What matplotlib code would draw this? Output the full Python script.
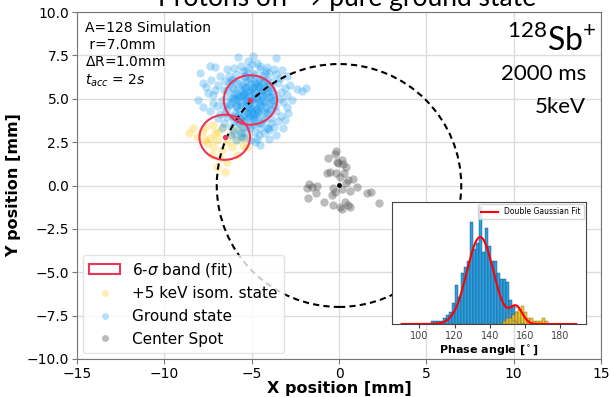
import numpy as np
import matplotlib.pyplot as plt
from matplotlib.patches import Ellipse, Circle, Rectangle
from matplotlib.lines import Line2D

plt.rcParams['mathtext.fontset'] = 'dejavusans'
plt.rcParams['mathtext.rm'] = 'Lato'

# ground state hits (mm)
blue_x = [-5.0, -4.8, -5.2, -4.6, -5.4, -5.1, -4.9, -4.5, -5.5, -5.3,
          -4.7, -5.6, -4.4, -5.0, -5.2, -4.3, -5.8, -4.9, -5.7, -4.2,
          -5.4, -4.6, -6.0, -4.0, -5.9, -4.8, -5.3, -4.1, -6.1, -3.9,
          -5.1, -4.4, -5.7, -6.2, -3.8, -4.6, -5.6, -6.3, -3.7, -5.0,
          -4.3, -5.9, -4.9, -4.1, -6.4, -3.6, -5.5, -4.5, -6.6, -3.5,
          -5.3, -4.2, -6.0, -3.9, -6.7, -3.4, -5.8, -4.8, -6.5, -3.6,
          -5.05, -4.85, -5.15, -4.95, -4.75, -5.25, -5.35, -4.65, -4.55, -5.45,
          -5.1, -4.9, -4.4, -5.6, -5.3, -4.7, -5.8, -4.2, -5.2, -4.8,
          -4.55, -5.45, -5.75, -4.25, -5.95, -4.05, -4.35, -5.65, -6.15, -3.85,
          -5.25, -4.75, -5.05, -4.95, -5.55, -4.45, -5.35, -4.65, -5.85, -4.15,
          -6.9, -7.0, -6.8, -6.8, -3.2, -3.1, -3.3, -3.4, -6.2, -3.7,
          -5.4, -4.6, -6.4, -5.6, -4.5, -6.0, -5.2, -4.0, -6.6, -7.2,
          -7.3, -6.5, -3.0, -3.5, -6.9, -6.1, -3.9, -6.3, -3.8, -7.1,
          -6.7, -6.2, -5.9, -5.6, -5.1, -4.3, -4.0, -3.6, -7.4, -7.6,
          -7.96, -7.38, -7.10, -5.76, -4.91, -4.71, -3.61, -4.14, -3.28, -8.05,
          -7.77, -7.48, -7.19, -2.42, -2.14, -1.89, -2.80, -2.99, -3.09, -3.19,
          -4.05, -4.52, -5.09, -5.86, -5.48, -6.43, -3.0, -2.7, -2.9, -7.8,
          -4.72, -5.18, -4.38, -5.62, -4.88, -5.32, -4.52, -5.48, -4.98, -5.08,
          -4.28, -5.78, -4.62, -5.38, -4.18, -5.88, -4.82, -5.22, -4.42, -5.58,
          -4.02, -6.02, -4.68, -5.12, -3.92, -6.08, -4.92, -5.28, -4.32, -5.72,
          -3.82, -6.22, -4.58, -5.42, -4.12, -5.92, -4.78, -5.02, -3.72, -6.32,
          -4.48, -5.52, -4.22, -5.68, -4.88, -5.16, -3.98, -6.12, -4.36, -5.84,
          -4.64, -5.36, -4.06, -5.96, -4.84, -5.04, -3.66, -6.42, -4.26, -5.74,
          -5.5, -4.5, -6.6, -3.3, -6.0, -4.0, -5.0, -5.3, -4.7, -6.3,
          -3.7, -5.9, -4.1, -5.4, -4.6, -6.1, -3.9, -5.2, -4.8, -5.6]
blue_y = [4.9, 5.1, 4.7, 4.8, 5.2, 5.4, 4.5, 5.3, 4.6, 5.0,
          4.4, 5.5, 4.9, 5.7, 4.2, 5.6, 4.9, 4.1, 4.3, 4.5,
          5.9, 6.0, 5.3, 5.1, 4.5, 3.9, 3.8, 4.2, 5.7, 5.7,
          6.2, 6.3, 6.1, 4.8, 4.7, 3.6, 3.9, 5.1, 5.3, 3.5,
          3.9, 6.4, 6.5, 6.1, 4.4, 4.3, 3.4, 3.3, 5.5, 5.9,
          6.6, 6.6, 3.7, 3.6, 4.9, 5.0, 3.2, 3.1, 6.0, 6.4,
          4.95, 4.75, 5.15, 5.25, 5.05, 4.85, 4.55, 5.45, 4.65, 5.35,
          4.4, 5.6, 5.2, 4.8, 5.7, 4.1, 5.2, 4.8, 3.9, 5.9,
          5.75, 4.05, 5.65, 4.15, 4.15, 5.45, 5.95, 3.75, 5.05, 4.95,
          5.45, 4.35, 5.85, 3.95, 5.15, 4.55, 4.25, 5.65, 4.65, 5.25,
          5.8, 4.6, 4.1, 6.3, 4.8, 5.6, 4.0, 6.2, 3.4, 3.4,
          3.0, 2.9, 6.7, 6.9, 6.9, 6.8, 7.2, 6.5, 3.6, 5.2,
          6.1, 4.2, 5.2, 3.7, 3.9, 4.0, 3.9, 6.3, 6.0, 5.5,
          3.3, 2.9, 2.6, 2.8, 2.6, 3.0, 2.7, 2.9, 4.3, 5.7,
          6.47, 6.89, 6.85, 7.39, 7.46, 7.04, 7.33, 6.85, 6.66, 4.93,
          4.54, 5.31, 4.74, 5.54, 5.46, 5.60, 5.79, 4.54, 3.78, 3.30,
          3.30, 2.33, 3.30, 3.68, 2.81, 3.97, 6.3, 4.9, 4.2, 5.9,
          5.02, 4.82, 5.18, 4.62, 5.38, 4.98, 4.72, 5.28, 4.42, 5.52,
          4.88, 5.08, 4.28, 5.62, 5.32, 4.58, 5.78, 4.18, 5.48, 5.22,
          4.68, 4.98, 5.92, 3.98, 5.08, 5.58, 3.82, 6.02, 4.38, 4.12,
          5.42, 4.72, 6.12, 3.72, 5.82, 5.32, 4.02, 6.22, 4.92, 4.62,
          3.62, 5.72, 6.02, 3.88, 6.38, 4.48, 4.32, 6.08, 3.78, 5.88,
          4.22, 6.32, 5.68, 3.92, 3.52, 4.26, 4.58, 5.48, 6.42, 3.62,
          6.6, 6.7, 4.6, 5.4, 3.0, 3.2, 7.0, 3.4, 2.7, 5.9,
          6.7, 5.0, 3.3, 6.3, 5.7, 6.1, 4.4, 6.8, 2.5, 3.0]

# +5 keV isomeric state hits (mm)
iso_x = [-8.34, -7.67, -7.19, -8.15, -7.67, -7.00, -6.05, -5.67, -5.38, -5.86,
         -6.14, -6.71, -7.29, -7.57, -5.86, -6.53, -7.00, -6.43, -7.10, -6.62,
         -5.28, -5.57, -7.86, -7.38, -8.6, -6.2, -6.9, -6.4, -7.2, -5.5, -6.8]
iso_y = [3.30, 3.39, 3.49, 2.81, 2.62, 2.62, 3.20, 3.30, 2.72, 2.62,
         2.24, 2.05, 1.76, 2.43, 1.76, 0.80, 1.08, 1.37, 3.01, 3.39,
         2.24, 2.91, 3.10, 2.72, 3.0, 2.9, 3.1, 2.5, 2.2, 2.3, 1.6]

# center spot hits (mm)
center_x = [-0.19, -0.23, -0.61, -0.13, 0.15, 0.21, 0.40, -0.04, -0.70, -0.19,
            0.29, 0.06, 0.53, 0.78, 0.40, -1.70, -1.81, -1.24, -1.32, -0.33,
            -0.23, 0.15, 0.63, 1.01, -0.42, -1.76, -0.84, -0.36, 0.06, 0.34,
            0.53, 0.63, 0.15, 1.59, 1.81, 2.31, -0.52, -1.55]
center_y = [2.01, 1.82, 1.57, 1.34, 1.47, 1.24, 1.08, 1.28, 0.70, 0.70,
            0.70, 0.51, 0.32, 0.36, 0.13, 0.07, -0.16, -0.03, -0.45, -0.16,
            -0.36, -0.22, -0.30, -0.10, -0.55, -0.74, -0.93, -1.12, -1.26, -0.93,
            -1.12, -1.26, -1.37, -0.45, -0.36, -1.03, 0.78, -0.09]

# fitted spot centres and 6-sigma band widths (mm)
gs_fit = (-5.07, 4.93, 3.05, 2.85)
iso_fit = (-6.54, 2.78, 2.90, 2.60)
spot_center = (0.0, 0.05)
ring_radius = 7.0

# phase histogram (deg)
bin_width = 1.7
blue_start = 107.6
blue_counts = [1, 1, 1, 1, 2, 3, 4, 7, 13, 9, 17, 19, 21, 34, 25, 27, 39, 24,
               32, 26, 21, 21, 17, 15, 15, 14, 8, 6, 4, 2]
iso_start = 148.4
iso_counts = [1, 2, 2, 3, 4, 5, 6, 4, 2, 2, 1, 1, 1, 2, 1]
# double gaussian fit parameters: amplitude, mean, sigma
fit1 = (29.0, 134.5, 7.5)
fit2 = (5.5, 155.0, 3.5)
fit_range = (90, 189)

ring_col = '#ee3358'
blue_col = '#1a9af0'
iso_col = '#ffcc22'
spot_col = '#555555'

fig = plt.figure(figsize=(6.1, 3.97), dpi=100)
ax = fig.add_axes([77 / 610, 1 - 359 / 397, 524 / 610, 347 / 397])

ax.scatter(iso_x, iso_y, s=36, color=iso_col, alpha=0.35, lw=0, zorder=2)
ax.scatter(blue_x, blue_y, s=36, color=blue_col, alpha=0.3, lw=0, zorder=3)
ax.scatter(center_x, center_y, s=36, color=spot_col, alpha=0.4, lw=0, zorder=3)
ax.scatter([spot_center[0]], [spot_center[1]], s=6, color='k', zorder=5)

ax.add_patch(Circle((0, 0), ring_radius, fill=False, color='k', lw=1.5,
                    ls=(0, (3.0, 2.0)), zorder=4))
for cx, cy, w, h in (gs_fit, iso_fit):
    ax.add_patch(Ellipse((cx, cy), w, h, fill=False, ec=ring_col, lw=1.5, zorder=5))
    ax.scatter([cx], [cy], s=8, color=ring_col, zorder=6)

ax.set_xlim(-15, 15)
ax.set_ylim(-10, 10)
ax.grid(True, color='#dddddd', lw=1)
ax.set_axisbelow(True)
for sp in ax.spines.values():
    sp.set_color('#777777')
ax.tick_params(labelsize=10, color='#777777', pad=2)
ax.set_xlabel('X position [mm]', fontsize=11.5, fontweight='bold', labelpad=0)
ax.set_ylabel('Y position [mm]', fontsize=11.5, fontweight='bold')

ax.text(0.015, 0.975, 'A=128 Simulation\n r=7.0mm\n$\\Delta$R=1.0mm\n$t_{acc}$ = 2$s$',
        transform=ax.transAxes, fontsize=10, va='top', linespacing=1.3)

handles = [Rectangle((0, 0), 1, 1, fc='none', ec=ring_col, lw=1.5),
           Line2D([], [], ls='', marker='o', ms=5, color=iso_col, alpha=0.35, mew=0),
           Line2D([], [], ls='', marker='o', ms=5, color=blue_col, alpha=0.3, mew=0),
           Line2D([], [], ls='', marker='o', ms=5, color=spot_col, alpha=0.4, mew=0)]
labels = ['6-$\\sigma$ band (fit)', '+5 keV isom. state', 'Ground state', 'Center Spot']
ax.legend(handles, labels, loc='lower left', fontsize=11, framealpha=0.8,
          edgecolor='#dddddd', borderaxespad=0.4)

# inset: phase angle histogram
ins = fig.add_axes([392 / 610, 1 - 324 / 397, 194 / 610, 122 / 397])
bc = blue_start + bin_width * np.arange(len(blue_counts))
ic = iso_start + bin_width * np.arange(len(iso_counts))
ins.bar(bc, blue_counts, width=bin_width, color='#2a9fe2', ec='#1a4a6a', lw=0.3, zorder=2)
ins.bar(ic, iso_counts, width=bin_width, color='#f0c020', ec='#6a5a10', lw=0.3,
        alpha=0.9, zorder=3)

phi = np.linspace(fit_range[0], fit_range[1], 400)
g1 = fit1[0] * np.exp(-(phi - fit1[1]) ** 2 / (2 * fit1[2] ** 2))
g2 = fit2[0] * np.exp(-(phi - fit2[1]) ** 2 / (2 * fit2[2] ** 2))
ins.plot(phi, g1, color='gray', ls='--', lw=1, alpha=0.6, zorder=4)
ins.plot(phi, g2, color='gray', ls='--', lw=1, alpha=0.6, zorder=4)
ins.plot(phi, g1 + g2, color='red', lw=1.5, label='Double Gaussian Fit', zorder=5)

ins.set_xlim(84.5, 194.5)
ins.set_ylim(0, 40.7)
ins.set_yticks([])
ins.set_xticks([100, 120, 140, 160, 180])
ins.tick_params(labelsize=7, colors='#444444', length=3, pad=2)
for sp in ins.spines.values():
    sp.set_color('#444444')
ins.set_xlabel('Phase angle [$^\\circ$]', fontsize=8, fontweight='bold', labelpad=2)
ins.legend(loc='upper right', fontsize=5.5, framealpha=0.8, handlelength=2.2,
           borderaxespad=0.3)

# slide annotations
fig.text(0.569, 1 - 6 / 397, 'Protons off \u2192 pure ground state', family='Lato',
         fontsize=19, ha='center', va='baseline')
fig.text(597 / 610, 1 - 51 / 397, '$^{128}\\mathrm{Sb}^{+}$', family='Lato',
         math_fontfamily='custom', fontsize=23, ha='right', va='baseline')
fig.text(586 / 610, 1 - 80 / 397, '2000 ms', family='Lato', fontsize=16,
         ha='right', va='baseline')
fig.text(586 / 610, 1 - 113 / 397, '5keV', family='Lato', fontsize=16,
         ha='right', va='baseline')

fig.savefig('out.png', dpi=100)
